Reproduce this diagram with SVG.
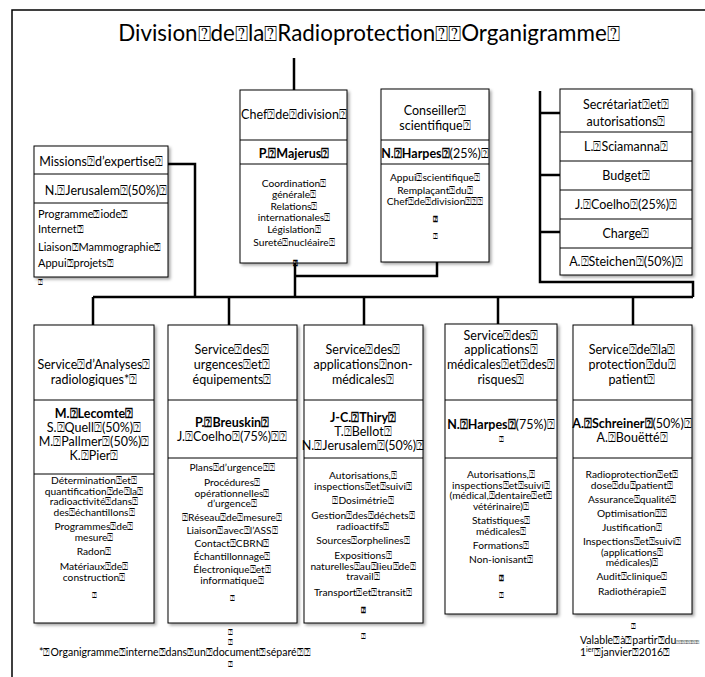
<svg xmlns="http://www.w3.org/2000/svg" width="705" height="677" viewBox="0 0 705 677">
<defs>
<filter id="sh" x="-10%" y="-10%" width="130%" height="130%">
<feDropShadow dx="2" dy="2" stdDeviation="1.5" flood-color="#000" flood-opacity="0.35"/>
</filter>
<style>
.box{fill:#fff;stroke:#000;stroke-width:1;filter:url(#sh)}
.div{stroke:#000;stroke-width:1}
.con{fill:none;stroke:#000;stroke-width:2.5}
.frame{fill:none;stroke:#000;stroke-width:1.5}
text{font-family:Lato,"Liberation Sans",sans-serif;fill:#000}
.h{font-size:12.5px;text-anchor:middle}
.n{font-size:12.5px;text-anchor:middle}
.s{font-size:10.2px;text-anchor:middle}
.l{font-size:11px;text-anchor:start}
.f{font-size:10.5px;text-anchor:start}
.q{font-size:8px;text-anchor:middle}
.b{font-weight:bold}
.title{font-size:22.4px;text-anchor:middle}
.tiny{font-size:5.5px;letter-spacing:-0.5px}
</style>
</defs>
<rect width="705" height="677" fill="#fff"/>
<path class="frame" d="M12,677 V10 H705"/>
<text class="title" x="369" y="41">Division⍰de⍰la⍰Radioprotection⍰⍰Organigramme⍰</text>

<g id="connectors">
<path class="con" d="M294,58 V90"/>
<path class="con" d="M295,263 V297"/>
<path class="con" d="M437,262 V276 H295"/>
<path class="con" d="M168,164 H195 V297"/>
<path class="con" d="M540,91 V282 H693 V297"/>
<path class="con" d="M540,113 H560 M540,175 H560 M540,232 H560"/>
<path class="con" d="M93,297 H693"/>
<path class="con" d="M93,297 V325 M229,297 V325 M364,297 V325 M498,297 V324 M633,297 V325"/>
</g>

<g id="missions">
<rect class="box" x="34" y="146" width="134" height="131"/>
<path class="div" d="M34,174 H168 M34,203 H168"/>
<text class="h" x="101" y="166">Missions⍰d’expertise⍰</text>
<text class="n" x="106" y="195">N.⍰Jerusalem⍰(50%)⍰</text>
<text class="l" x="38" y="218">Programme⍰iode⍰</text>
<text class="l" x="38" y="233">Internet⍰</text>
<text class="l" x="38" y="251">Liaison⍰Mammographie⍰</text>
<text class="l" x="38" y="267">Appui⍰projets⍰</text>
<text class="q" x="40" y="285">⍰</text>
</g>

<g id="chef">
<rect class="box" x="240" y="90" width="107" height="173"/>
<path class="div" d="M240,140 H347 M240,164 H347"/>
<text class="h" x="294" y="119">Chef⍰de⍰division⍰</text>
<text class="n b" x="294" y="158">P.⍰Majerus⍰</text>
<text class="s" x="294" y="187">Coordination⍰</text>
<text class="s" x="294" y="197.5">générale⍰</text>
<text class="s" x="294" y="210">Relations⍰</text>
<text class="s" x="294" y="220.5">internationales⍰</text>
<text class="s" x="294" y="233">Législation⍰</text>
<text class="s" x="294" y="246">Sureté⍰nucléaire⍰</text>
<text class="q b" x="295" y="266">⍰</text>
</g>

<g id="conseiller">
<rect class="box" x="381" y="89" width="108" height="173"/>
<path class="div" d="M381,140 H489 M381,164 H489"/>
<text class="h" x="435" y="115">Conseiller⍰</text>
<text class="h" x="435" y="130">scientifique⍰</text>
<text class="n" x="435" y="158"><tspan class="b">N.⍰Harpes⍰</tspan>(25%)⍰</text>
<text class="s" x="435" y="181">Appui⍰scientifique⍰</text>
<text class="s" x="435" y="194">Remplaçant⍰du⍰</text>
<text class="s" x="435" y="204.5">Chef⍰de⍰division⍰⍰⍰</text>
<text class="q b" x="435" y="222">⍰</text>
<text class="q" x="435" y="239">⍰</text>
</g>

<g id="secretariat">
<rect class="box" x="560" y="89" width="132" height="186"/>
<path class="div" d="M560,132 H692 M560,161 H692 M560,190 H692 M560,219 H692 M560,248 H692"/>
<text class="h" x="626" y="109">Secrétariat⍰et⍰</text>
<text class="h" x="626" y="126">autorisations⍰</text>
<text class="n" x="626" y="151">L.⍰Sciamanna⍰</text>
<text class="n" x="626" y="180">Budget⍰</text>
<text class="n" x="626" y="209">J.⍰Coelho⍰(25%)⍰</text>
<text class="n" x="626" y="238">Charge⍰</text>
<text class="n" x="626" y="266">A.⍰Steichen⍰(50%)⍰</text>
</g>

<g id="analyses">
<rect class="box" x="34" y="325" width="120" height="298"/>
<path class="div" d="M34,400 H154 M34,474 H154"/>
<text class="h" x="94" y="369">Service⍰d’Analyses⍰</text>
<text class="h" x="94" y="384">radiologiques*⍰</text>
<text class="n b" x="94" y="418">M.⍰Lecomte⍰</text>
<text class="n" x="94" y="432">S.⍰Quell⍰(50%)⍰</text>
<text class="n" x="94" y="446">M.⍰Pallmer⍰(50%)⍰</text>
<text class="n" x="94" y="460">K.⍰Pier⍰</text>
<text class="s" x="94" y="484">Détermination⍰et⍰</text>
<text class="s" x="94" y="494.5">quantification⍰de⍰la⍰</text>
<text class="s" x="94" y="505">radioactivité⍰dans⍰</text>
<text class="s" x="94" y="515.5">des⍰échantillons⍰</text>
<text class="s" x="94" y="530">Programmes⍰de⍰</text>
<text class="s" x="94" y="540.5">mesure⍰</text>
<text class="s" x="94" y="555">Radon⍰</text>
<text class="s" x="94" y="570">Matériaux⍰de⍰</text>
<text class="s" x="94" y="580.5">construction⍰</text>
<text class="q" x="94" y="598">⍰</text>
</g>

<g id="urgences">
<rect class="box" x="168" y="325" width="129" height="298"/>
<path class="div" d="M168,400 H297 M168,458 H297"/>
<text class="h" x="232" y="354">Service⍰des⍰</text>
<text class="h" x="232" y="369">urgences⍰et⍰</text>
<text class="h" x="232" y="384">équipements⍰</text>
<text class="n b" x="232" y="427">P.⍰Breuskin⍰</text>
<text class="n" x="232" y="441">J.⍰Coelho⍰(75%)⍰⍰</text>
<text class="s" x="232" y="471">Plans⍰d’urgence⍰⍰</text>
<text class="s" x="232" y="486">Procédures⍰</text>
<text class="s" x="232" y="496.5">opérationnelles⍰</text>
<text class="s" x="232" y="507">d’urgence⍰</text>
<text class="s" x="232" y="521">⍰Réseau⍰de⍰mesure⍰</text>
<text class="s" x="232" y="534">Liaison⍰avec⍰l’ASS⍰</text>
<text class="s" x="232" y="547">Contact⍰CBRN⍰</text>
<text class="s" x="232" y="560">Échantillonnage⍰</text>
<text class="s" x="232" y="573">Électronique⍰et⍰</text>
<text class="s" x="232" y="583.5">informatique⍰</text>
<text class="q" x="232" y="601">⍰</text>
<text class="q" x="230" y="635">⍰</text>
<text class="q" x="230" y="645">⍰</text>
<text class="q" x="230" y="667">⍰</text>
</g>

<g id="nonmedicales">
<rect class="box" x="304" y="325" width="119" height="298"/>
<path class="div" d="M304,400 H423 M304,458 H423"/>
<text class="h" x="363" y="354">Service⍰des⍰</text>
<text class="h" x="363" y="369">applications⍰non-</text>
<text class="h" x="363" y="384">médicales⍰</text>
<text class="n b" x="363" y="422">J-C.⍰Thiry⍰</text>
<text class="n" x="363" y="436">T.⍰Bellot⍰</text>
<text class="n" x="363" y="450">N.⍰Jerusalem⍰(50%)⍰</text>
<text class="s" x="363" y="479">Autorisations,⍰</text>
<text class="s" x="363" y="489.5">inspections⍰et⍰suivi⍰</text>
<text class="s" x="363" y="504">⍰Dosimétrie⍰</text>
<text class="s" x="363" y="519">Gestion⍰des⍰déchets⍰</text>
<text class="s" x="363" y="529.5">radioactifs⍰</text>
<text class="s" x="363" y="544">Sources⍰orphelines⍰</text>
<text class="s" x="363" y="559">Expositions⍰</text>
<text class="s" x="363" y="569.5">naturelles⍰au⍰lieu⍰de⍰</text>
<text class="s" x="363" y="580">travail⍰</text>
<text class="s" x="363" y="596">Transport⍰et⍰transit⍰</text>
<text class="q b" x="363" y="613">⍰</text>
<text class="q" x="363" y="639">⍰</text>
</g>

<g id="medicales">
<rect class="box" x="445" y="324" width="112" height="290"/>
<path class="div" d="M445,400 H557 M445,458 H557"/>
<text class="h" x="501" y="340">Service⍰des⍰</text>
<text class="h" x="501" y="354">applications⍰</text>
<text class="h" x="501" y="369">médicales⍰et⍰des⍰</text>
<text class="h" x="501" y="384">risques⍰</text>
<text class="n" x="501" y="429"><tspan class="b">N.⍰Harpes⍰</tspan>(75%)⍰</text>
<text class="q" x="501" y="442">⍰</text>
<text class="s" x="501" y="478">Autorisations,⍰</text>
<text class="s" x="501" y="488.5">inspections⍰et⍰suivi⍰</text>
<text class="s" x="501" y="499">(médical,⍰dentaire⍰et⍰</text>
<text class="s" x="501" y="509.5">vétérinaire)⍰</text>
<text class="s" x="501" y="524">Statistiques⍰</text>
<text class="s" x="501" y="534.5">médicales⍰</text>
<text class="s" x="501" y="549">Formations⍰</text>
<text class="s" x="501" y="563">Non-ionisant⍰</text>
<text class="q b" x="501" y="581">⍰</text>
<text class="q" x="501" y="598">⍰</text>
</g>

<g id="patient">
<rect class="box" x="573" y="325" width="119" height="289"/>
<path class="div" d="M573,400 H692 M573,458 H692"/>
<text class="h" x="632" y="354">Service⍰de⍰la⍰</text>
<text class="h" x="632" y="369">protection⍰du⍰</text>
<text class="h" x="632" y="384">patient⍰</text>
<text class="n" x="632" y="428"><tspan class="b">A.⍰Schreiner⍰</tspan>(50%)⍰</text>
<text class="n" x="632" y="442">A.⍰Bouëtté⍰</text>
<text class="s" x="632" y="478">Radioprotection⍰et⍰</text>
<text class="s" x="632" y="488.5">dose⍰du⍰patient⍰</text>
<text class="s" x="632" y="503">Assurance⍰qualité⍰</text>
<text class="s" x="632" y="517">Optimisation⍰⍰</text>
<text class="s" x="632" y="531">Justification⍰</text>
<text class="s" x="632" y="545">Inspections⍰et⍰suivi⍰</text>
<text class="s" x="632" y="555.5">(applications⍰</text>
<text class="s" x="632" y="566">médicales)⍰</text>
<text class="s" x="632" y="580">Audit⍰clinique⍰</text>
<text class="s" x="632" y="595">Radiothérapie⍰</text>
<text class="q" x="633" y="629">⍰</text>
</g>

<g id="notes">
<text class="f" x="39" y="656">*⍰Organigramme⍰interne⍰dans⍰un⍰document⍰séparé⍰⍰</text>
<text class="f" x="580" y="644">Valable⍰à⍰partir⍰du<tspan class="tiny">⍰⍰⍰⍰⍰⍰⍰⍰⍰</tspan></text>
<text class="f" x="580" y="656">1<tspan font-size="7px" dy="-4">ier</tspan><tspan dy="4">⍰janvier⍰2016⍰</tspan></text>
</g>
</svg>
